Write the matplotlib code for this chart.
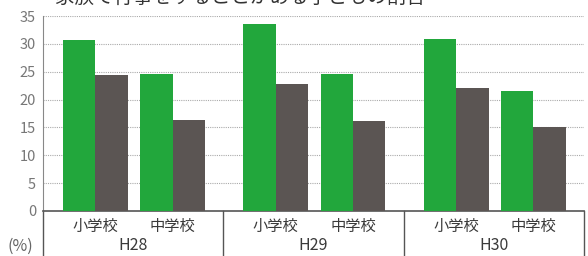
import numpy as np
import matplotlib
matplotlib.use("Agg")
from matplotlib import pyplot as plt

plt.rcParams['font.family'] = ['Noto Sans CJK JP', 'DejaVu Sans']

years = ["H28", "H29", "H30"]
schools = ["小学校", "中学校"]
# green = target group, gray = comparison
green_vals = [[30.7, 24.6], [33.5, 24.6], [30.9, 21.5]]
gray_vals = [[24.5, 16.4], [22.8, 16.1], [22.1, 15.0]]
yticks = [0, 5, 10, 15, 20, 25, 30, 35]
title = "家族で行事をすることがある子どもの割合"

GREEN = "#22a73c"
GRAY = "#5b5553"
LINE = "#555555"

fig = plt.figure(figsize=(5.88, 2.56), dpi=100)
ax = fig.add_axes([43 / 588, 45 / 256, 541 / 588, 195 / 256])

bw = 0.18
offsets = [0.111, 0.539]
for g in range(len(years)):
    for s in range(len(schools)):
        x0 = g + offsets[s]
        ax.bar(x0, green_vals[g][s], width=bw, align='edge', color=GREEN, zorder=3)
        ax.bar(x0 + bw, gray_vals[g][s], width=bw, align='edge', color=GRAY, zorder=3)
        ax.text(x0 + bw, -2.7, schools[s], ha='center', va='center',
                fontsize=11, color="#3a3a3a", clip_on=False)
    ax.text(g + 0.5, -6.2, years[g], ha='center', va='center',
            fontsize=11.5, color="#3a3a3a", clip_on=False)

ax.set_xlim(0, 3)
ax.set_ylim(0, 35)
ax.set_yticks(yticks)
ax.set_yticklabels([str(v) for v in yticks], fontsize=10.5, color="#777777")
ax.tick_params(axis='y', length=0, pad=5)
ax.set_xticks([])
for y in yticks[1:]:
    ax.axhline(y, color="#aaaaaa", linestyle=(0, (1, 1)), linewidth=0.8, zorder=1)

for side in ["top", "right"]:
    ax.spines[side].set_visible(False)
ax.spines["left"].set_color("#888888")
ax.spines["bottom"].set_color(LINE)
ax.spines["bottom"].set_linewidth(1.2)

# group separators below the axis
for xs in [0, 1, 2, 3]:
    ax.plot([xs, xs], [0, -8.5], color=LINE, linewidth=1.0, clip_on=False)

fig.text(20 / 588, 10 / 256, "(%)", ha='center', va='center', fontsize=11.5, color="#666666")
fig.text(55 / 588, 1.0 - 8 / 256, title, ha='left', va='bottom', fontsize=14, color="#333333")

plt.savefig("out.png", dpi=100)
plt.close()
